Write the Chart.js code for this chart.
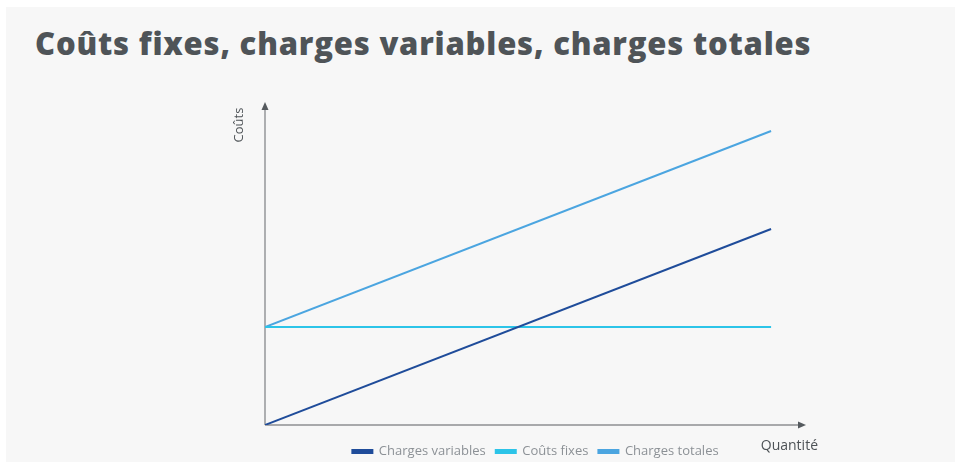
<!DOCTYPE html>
<html>
<head>
<meta charset="utf-8">
<script src="https://cdn.jsdelivr.net/npm/chart.js@4.4.0/dist/chart.umd.min.js"></script>
<style>
  html, body { margin: 0; padding: 0; background: #ffffff; }
  #wrap { position: relative; width: 960px; height: 466px; }
  #panel { position: absolute; left: 6px; top: 7px; width: 949px; height: 455px; background: #f7f7f7; }
  h1 {
    position: absolute; left: 35px; top: 22px; margin: 0;
    font-family: "Open Sans", sans-serif; font-weight: 800; font-size: 31px;
    color: #4f5458; letter-spacing: 0.8px; white-space: nowrap; line-height: 42px;
  }
  canvas { position: absolute; left: 0; top: 0; }
</style>
</head>
<body>
<div id="wrap">
  <div id="panel"></div>
  <h1>Coûts fixes, charges variables, charges totales</h1>
  <canvas id="myChart" width="960" height="466"></canvas>
</div>
<script>
// quantité (début et fin des droites)
const quantites = [0, 10];
const chargesVariables = [0, 2];
const coutsFixes = [1, 1];
const chargesTotales = [1, 3];

const seriesNames = ['Charges variables', 'Coûts fixes', 'Charges totales'];
const seriesColors = ['#1f4c9a', '#2cc4e8', '#4ba5e0'];
const axisTitles = { x: 'Quantité', y: 'Coûts' };

function toPoints(values) {
  return values.map(function(v, i) { return { x: quantites[i], y: v }; });
}

// axes with arrows + axis titles
const axesPlugin = {
  id: 'axesArrows',
  beforeDatasetsDraw(chart) {
    const ctx = chart.ctx;
    const a = chart.chartArea;
    ctx.save();
    ctx.strokeStyle = '#8e9093';
    ctx.lineWidth = 1.4;
    ctx.beginPath();
    ctx.moveTo(a.left, a.bottom);
    ctx.lineTo(a.left, a.top + 4);
    ctx.moveTo(a.left, a.bottom);
    ctx.lineTo(a.right - 4, a.bottom);
    ctx.stroke();

    ctx.fillStyle = '#555a5e';
    ctx.beginPath();
    ctx.moveTo(a.left, a.top);
    ctx.lineTo(a.left - 3.5, a.top + 8);
    ctx.lineTo(a.left + 3.5, a.top + 8);
    ctx.closePath();
    ctx.fill();
    ctx.beginPath();
    ctx.moveTo(a.right, a.bottom);
    ctx.lineTo(a.right - 8, a.bottom - 3.5);
    ctx.lineTo(a.right - 8, a.bottom + 3.5);
    ctx.closePath();
    ctx.fill();

    ctx.fillStyle = '#4d5256';
    ctx.font = '14px "Open Sans", sans-serif';
    ctx.textAlign = 'right';
    ctx.textBaseline = 'alphabetic';
    ctx.fillText(axisTitles.x, a.right + 12, a.bottom + 25);

    ctx.font = '13px "Open Sans", sans-serif';
    ctx.translate(a.left - 22, a.top + 23);
    ctx.rotate(-Math.PI / 2);
    ctx.textAlign = 'center';
    ctx.fillText(axisTitles.y, 0, 0);
    ctx.restore();
  }
};

new Chart(document.getElementById('myChart'), {
  type: 'line',
  data: {
    datasets: [chargesVariables, coutsFixes, chargesTotales].map(function(vals, i) {
      return {
        label: seriesNames[i],
        data: toPoints(vals),
        borderColor: seriesColors[i],
        backgroundColor: seriesColors[i],
        borderWidth: 2,
        pointRadius: 0,
        fill: false
      };
    })
  },
  options: {
    responsive: false,
    animation: false,
    layout: { padding: { left: 265, right: 154, top: 102, bottom: 0 } },
    scales: {
      x: {
        type: 'linear', min: 0, max: 10.69,
        grid: { display: false }, border: { display: false },
        ticks: { display: false },
        afterFit: function(scale) { scale.height = 10; }
      },
      y: {
        display: false, min: 0, max: 3.296
      }
    },
    plugins: {
      legend: {
        position: 'bottom',
        fullSize: false,
        maxHeight: 31,
        labels: {
          boxWidth: 20, boxHeight: 3, padding: 10,
          color: '#8c9196',
          font: { family: '"Open Sans", sans-serif', size: 13 }
        }
      },
      tooltip: { enabled: false }
    }
  },
  plugins: [axesPlugin]
});
</script>
</body>
</html>
